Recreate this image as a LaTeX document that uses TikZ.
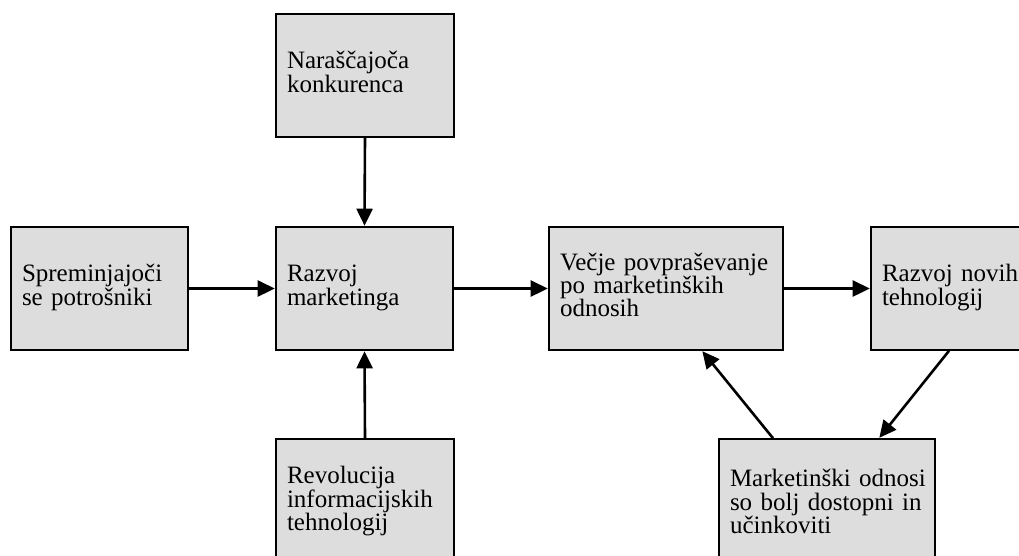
\documentclass[tikz,border=0pt]{standalone}
\usepackage{fontspec}
\setmainfont{Liberation Serif}
\usetikzlibrary{arrows.meta}
\definecolor{boxfill}{HTML}{DDDDDD}
% fixed-height first line and fixed-depth last line, so every text block
% sits the same way inside its box
\newcommand{\firstln}{\rule{0pt}{18pt}}
\newcommand{\lastln}{\rule[-8pt]{0pt}{8pt}}
\begin{document}
\begin{tikzpicture}[x=1pt,y=-1pt,
  box/.style={draw=black, line width=1.6pt, fill=boxfill, rectangle,
    inner xsep=11pt, inner ysep=0pt, minimum height=123pt, align=left,
    font=\fontsize{25pt}{23.3pt}\selectfont,
    execute at begin node={\lineskiplimit=-20pt}},
  flow/.style={line width=2.6pt, -{Triangle[length=17pt,width=16pt]}, shorten >=0.5pt}
]
\useasboundingbox (0,0) rectangle (1019,555);
\clip (0,0) rectangle (1019,555);

% boxes
\node[box, text width=156pt, minimum width=178pt] (konk) at (365,75.5)
  {\firstln Naraščajoča\\konkurenca\lastln};
\node[box, text width=155pt, minimum width=177pt] (potr) at (99.5,288.5)
  {\firstln Spreminjajoči\\se potrošniki\lastln};
\node[box, text width=155pt, minimum width=177pt] (razv) at (364.5,288.5)
  {\firstln Razvoj\\marketinga\lastln};
\node[box, text width=212pt, minimum width=234pt] (povp) at (666,288.5)
  {\firstln Večje~povpraševanje\\po marketinških\\odnosih\lastln};
\node[box, text width=158pt, minimum width=180pt] (tehn) at (961,288.5)
  {\firstln Razvoj novih\\tehnologij\lastln};
\node[box, text width=156pt, minimum width=178pt, minimum height=126pt] (revo) at (365,502)
  {\firstln Revolucija\\informacijskih\\tehnologij\lastln};
\node[box, text width=194pt, minimum width=216pt, minimum height=132pt] (odno) at (827,505)
  {\firstln Marketinški~odnosi\\so~bolj~dostopni~in\\učinkoviti\lastln};

% connectors
\draw[flow] (konk.south) -- (razv.north);
\draw[flow] (potr.east) -- (razv.west);
\draw[flow] (revo.north) -- (razv.south);
\draw[flow] (razv.east) -- (povp.west);
\draw[flow] (povp.east) -- (tehn.west);
\draw[flow] (tehn.south -| 949,0) -- (odno.north -| 879,0);
\draw[flow] (odno.north -| 773,0) -- (povp.south -| 702,0);
\end{tikzpicture}
\end{document}
